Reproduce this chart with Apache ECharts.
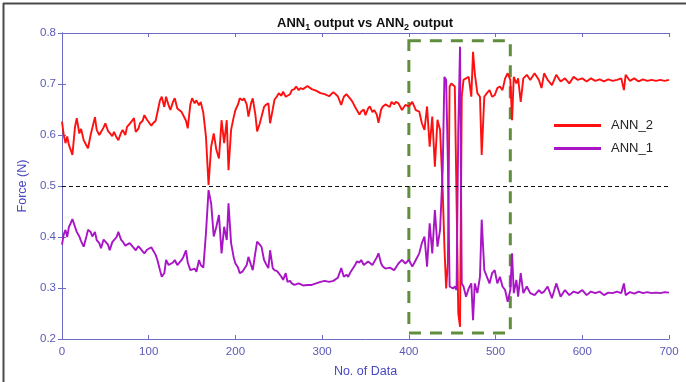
<!DOCTYPE html>
<html>
<head>
<meta charset="utf-8">
<script src="https://cdn.jsdelivr.net/npm/echarts@6/dist/echarts.min.js"></script>
<style>
  html, body { margin: 0; padding: 0; background: #fff; }
  #chart { width: 686px; height: 382px; }
</style>
</head>
<body>
<div id="chart"></div>
<script>
// sample index (No. of Data)
const dataIdx = [
  0, 2, 4, 6, 8, 10, 12, 15, 17, 20,
  22, 25, 28, 30, 33, 35, 38, 40, 43, 45,
  48, 50, 53, 55, 58, 60, 63, 65, 68, 70,
  73, 75, 78, 80, 83, 85, 88, 90, 93, 95,
  98, 100, 103, 105, 108, 110, 113, 115, 118, 120,
  123, 125, 128, 130, 133, 135, 138, 140, 143, 145,
  148, 150, 153, 155, 158, 160, 163, 166, 169, 172,
  175, 178, 181, 184, 187, 190, 192, 195, 198, 200,
  203, 205, 208, 210, 213, 215, 218, 220, 223, 225,
  228, 230, 233, 235, 238, 240, 243, 245, 248, 250,
  253, 255, 258, 260, 263, 265, 268, 270, 273, 275,
  278, 280, 283, 285, 288, 290, 293, 295, 298, 300,
  303, 305, 308, 310, 313, 315, 318, 320, 322, 325,
  328, 330, 333, 335, 338, 340, 343, 345, 348, 350,
  353, 355, 358, 360, 363, 365, 368, 370, 373, 375,
  378, 380, 383, 385, 388, 392, 396, 400, 404, 408,
  412, 415, 418, 421, 424, 427, 430, 433, 436, 439,
  441, 443, 445, 447, 449, 451, 453, 455, 457, 459,
  461, 463, 466, 469, 472, 474, 476, 479, 482, 484,
  487, 490, 493, 496, 499, 502, 505, 508, 511, 514,
  517, 519, 521, 524, 526, 529, 532, 536, 540, 545,
  550, 553, 556, 560, 565, 570, 575, 580, 585, 590,
  595, 600, 605, 610, 615, 620, 625, 630, 635, 640,
  645, 648, 650, 655, 660, 665, 670, 675, 680, 685,
  690, 695, 700
]

// ANN_2 output (red)
const ann2 = [
  0.626, 0.600, 0.584, 0.597, 0.580, 0.571, 0.561, 0.616, 0.633, 0.603,
  0.612, 0.590, 0.580, 0.574, 0.600, 0.597, 0.635, 0.610, 0.600, 0.606,
  0.615, 0.623, 0.608, 0.610, 0.598, 0.606, 0.595, 0.590, 0.604, 0.610,
  0.600, 0.616, 0.622, 0.626, 0.633, 0.606, 0.612, 0.623, 0.628, 0.639,
  0.630, 0.633, 0.618, 0.623, 0.628, 0.629, 0.668, 0.675, 0.655, 0.675,
  0.658, 0.649, 0.665, 0.672, 0.652, 0.655, 0.645, 0.643, 0.628, 0.613,
  0.660, 0.672, 0.662, 0.668, 0.658, 0.665, 0.643, 0.597, 0.502, 0.577,
  0.603, 0.571, 0.554, 0.629, 0.584, 0.629, 0.531, 0.610, 0.635, 0.649,
  0.660, 0.672, 0.668, 0.672, 0.660, 0.636, 0.662, 0.672, 0.640, 0.607,
  0.622, 0.623, 0.655, 0.659, 0.662, 0.623, 0.650, 0.669, 0.676, 0.682,
  0.677, 0.685, 0.675, 0.675, 0.680, 0.688, 0.690, 0.695, 0.688, 0.692,
  0.690, 0.692, 0.696, 0.695, 0.690, 0.692, 0.687, 0.685, 0.682, 0.685,
  0.680, 0.682, 0.676, 0.678, 0.684, 0.685, 0.676, 0.675, 0.659, 0.675,
  0.680, 0.682, 0.670, 0.665, 0.655, 0.649, 0.640, 0.646, 0.650, 0.639,
  0.652, 0.656, 0.645, 0.649, 0.640, 0.624, 0.650, 0.656, 0.660, 0.662,
  0.655, 0.665, 0.660, 0.665, 0.662, 0.649, 0.659, 0.656, 0.665, 0.649,
  0.646, 0.623, 0.610, 0.656, 0.577, 0.636, 0.538, 0.630, 0.610, 0.492,
  0.381, 0.299, 0.350, 0.695, 0.701, 0.701, 0.695, 0.698, 0.250, 0.224,
  0.675, 0.708, 0.711, 0.714, 0.675, 0.763, 0.721, 0.682, 0.675, 0.561,
  0.675, 0.682, 0.688, 0.675, 0.678, 0.692, 0.695, 0.688, 0.711, 0.721,
  0.708, 0.629, 0.714, 0.701, 0.711, 0.665, 0.711, 0.718, 0.708, 0.721,
  0.708, 0.692, 0.721, 0.708, 0.698, 0.718, 0.705, 0.711, 0.701, 0.714,
  0.708, 0.711, 0.705, 0.711, 0.706, 0.709, 0.705, 0.709, 0.706, 0.708,
  0.711, 0.688, 0.718, 0.706, 0.711, 0.705, 0.709, 0.706, 0.708, 0.706,
  0.708, 0.706, 0.708
]

// ANN_1 output (purple)
const ann1 = [
  0.385, 0.405, 0.414, 0.400, 0.420, 0.427, 0.435, 0.420, 0.410, 0.401,
  0.392, 0.381, 0.400, 0.414, 0.410, 0.401, 0.410, 0.394, 0.388, 0.378,
  0.395, 0.391, 0.385, 0.374, 0.390, 0.388, 0.400, 0.410, 0.395, 0.391,
  0.383, 0.381, 0.388, 0.384, 0.378, 0.374, 0.382, 0.378, 0.372, 0.368,
  0.375, 0.374, 0.380, 0.378, 0.365, 0.355, 0.335, 0.322, 0.329, 0.355,
  0.345, 0.342, 0.350, 0.355, 0.345, 0.342, 0.355, 0.361, 0.374, 0.350,
  0.335, 0.335, 0.338, 0.332, 0.355, 0.345, 0.340, 0.407, 0.492, 0.466,
  0.401, 0.420, 0.443, 0.368, 0.420, 0.394, 0.466, 0.388, 0.360, 0.348,
  0.340, 0.329, 0.332, 0.329, 0.345, 0.361, 0.345, 0.335, 0.370, 0.391,
  0.385, 0.381, 0.355, 0.348, 0.339, 0.374, 0.339, 0.335, 0.333, 0.329,
  0.322, 0.316, 0.329, 0.312, 0.314, 0.309, 0.306, 0.303, 0.309, 0.312,
  0.305, 0.303, 0.306, 0.303, 0.306, 0.306, 0.309, 0.309, 0.312, 0.312,
  0.314, 0.316, 0.312, 0.312, 0.314, 0.312, 0.320, 0.329, 0.339, 0.322,
  0.326, 0.322, 0.332, 0.335, 0.345, 0.352, 0.350, 0.355, 0.345, 0.348,
  0.352, 0.355, 0.345, 0.342, 0.360, 0.368, 0.348, 0.342, 0.338, 0.335,
  0.340, 0.342, 0.335, 0.335, 0.348, 0.355, 0.348, 0.355, 0.342, 0.355,
  0.368, 0.388, 0.401, 0.342, 0.427, 0.368, 0.453, 0.381, 0.414, 0.531,
  0.714, 0.708, 0.545, 0.303, 0.303, 0.299, 0.303, 0.296, 0.610, 0.773,
  0.309, 0.303, 0.283, 0.299, 0.309, 0.237, 0.309, 0.290, 0.322, 0.434,
  0.335, 0.322, 0.309, 0.329, 0.335, 0.309, 0.322, 0.303, 0.296, 0.273,
  0.296, 0.368, 0.290, 0.316, 0.283, 0.329, 0.290, 0.303, 0.290, 0.286,
  0.296, 0.290, 0.293, 0.303, 0.280, 0.309, 0.283, 0.296, 0.286, 0.293,
  0.290, 0.296, 0.286, 0.293, 0.290, 0.293, 0.286, 0.291, 0.290, 0.293,
  0.290, 0.309, 0.286, 0.292, 0.289, 0.293, 0.290, 0.292, 0.290, 0.291,
  0.290, 0.292, 0.291
]

const threshold = 0.5
// highlighted region (dashed green box)
const boxX = [400, 517]
const boxY = [0.212, 0.785]

const axisColor = "#6c6cc6"
const labelColor = "#5a5ab6"
const font = "Liberation Sans, Arial, sans-serif"

const chart = echarts.init(document.getElementById("chart"))

const toPairs = (ys) => dataIdx.map((x, i) => [x, ys[i]])

const xAxisBase = {
  type: "value",
  min: 0,
  max: 700,
  interval: 100,
  axisLine: { lineStyle: { color: axisColor, width: 1 } },
  axisTick: { inside: true, length: 4, lineStyle: { color: axisColor } },
  splitLine: { show: false },
}
const yAxisBase = {
  type: "value",
  min: 0.2,
  max: 0.8,
  interval: 0.1,
  axisLine: { show: true, lineStyle: { color: axisColor, width: 1 } },
  axisTick: { show: true, inside: true, length: 4, lineStyle: { color: axisColor } },
  splitLine: { show: false },
}

const option = {
  animation: false,
  backgroundColor: "#fff",
  title: {
    text: "{b|ANN}{s|1}{b| output vs ANN}{s|2}{b| output}",
    left: 272,
    top: 10,
    textStyle: {
      rich: {
        b: { fontFamily: font, fontWeight: "bold", fontSize: 13, color: "#111", lineHeight: 16 },
        s: { fontFamily: font, fontWeight: "bold", fontSize: 9, color: "#111", lineHeight: 16, padding: [9, 0, 0, 0] },
      },
    },
  },
  legend: {
    orient: "vertical",
    left: 549,
    top: 114,
    itemWidth: 47,
    itemHeight: 3,
    itemGap: 10,
    icon: "rect",
    data: ["ANN_2", "ANN_1"],
    textStyle: { fontFamily: font, fontSize: 13, color: "#222", padding: [0, 0, 0, 5] },
  },
  grid: { left: 62, right: 17, top: 33, bottom: 43, outerBoundsMode: "none", containLabel: false },
  xAxis: [
    Object.assign({}, xAxisBase, {
      position: "bottom",
      axisLabel: { color: labelColor, fontFamily: font, fontSize: 11.5, margin: 7 },
      name: "No. of Data",
      nameLocation: "middle",
      nameGap: 26,
      nameTextStyle: { color: "#4747c2", fontFamily: font, fontSize: 12.5 },
    }),
    Object.assign({}, xAxisBase, { position: "top", axisLabel: { show: false } }),
  ],
  yAxis: [
    Object.assign({}, yAxisBase, {
      position: "left",
      axisLabel: { color: labelColor, fontFamily: font, fontSize: 11.5, margin: 6, formatter: (v) => v.toFixed(1) },
      name: "Force (N)",
      nameLocation: "middle",
      nameGap: 28,
      nameTextStyle: { color: "#4747c2", fontFamily: font, fontSize: 12.5 },
    }),
    Object.assign({}, yAxisBase, { position: "right", axisLabel: { show: false } }),
  ],
  series: [
    {
      name: "ANN_2",
      type: "line",
      data: toPairs(ann2),
      showSymbol: false,
      itemStyle: { color: "#ff1010" },
      lineStyle: { width: 1.9, color: "#ff1010" },
      markLine: {
        silent: true,
        symbol: "none",
        label: { show: false },
        lineStyle: { color: "#111", type: [4, 3], width: 1 },
        data: [{ yAxis: threshold }],
      },
    },
    {
      name: "ANN_1",
      type: "line",
      data: toPairs(ann1),
      showSymbol: false,
      itemStyle: { color: "#a814c6" },
      lineStyle: { width: 1.9, color: "#a814c6" },
      markArea: {
        silent: true,
        itemStyle: {
          color: "rgba(0,0,0,0)",
          borderColor: "#5f8f3c",
          borderWidth: 3,
          borderType: [12, 9],
        },
        data: [[{ coord: [boxX[0], boxY[1]] }, { coord: [boxX[1], boxY[0]] }]],
      },
    },
  ],
  graphic: [
    { type: "line", shape: { x1: 3, y1: 3.5, x2: 686, y2: 3.5 }, style: { stroke: "#4a4a4a", lineWidth: 2 } },
    { type: "line", shape: { x1: 3.5, y1: 3, x2: 3.5, y2: 382 }, style: { stroke: "#4a4a4a", lineWidth: 2 } },
  ],
}

chart.setOption(option)
</script>
</body>
</html>
